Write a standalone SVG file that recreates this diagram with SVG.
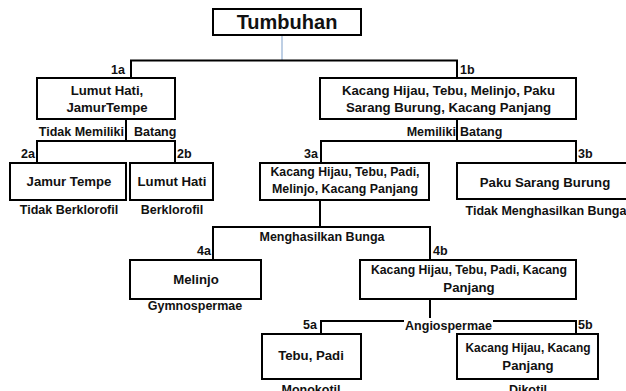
<svg xmlns="http://www.w3.org/2000/svg" width="626" height="391" viewBox="0 0 626 391">
<style>
rect.box{fill:#fff;stroke:#000;stroke-width:2}
.con{fill:none;stroke:#000;stroke-width:2}
text{font-family:"Liberation Sans",Arial,sans-serif;font-weight:bold;font-size:12.5px;fill:#111}
.b{font-size:13.2px}
.c{text-anchor:middle}
.e{text-anchor:end}
.title{font-size:20px}
</style>
<rect width="626" height="391" fill="#fff"/>
<g id="connectors">
<line x1="282" y1="35" x2="282" y2="60" stroke="#a8bfdb" stroke-width="1.5"/>
<path class="con" d="M131 78V60.5H457V78"/>
<path class="con" d="M126 119V141M37 163V141H175V163"/>
<path class="con" d="M457 119V141M321 163V141H576V163"/>
<path class="con" d="M320 200V227M213 260V227H430V260"/>
<path class="con" d="M430 299V321M321 334V321H576V334"/>
</g>
<g id="labels">
<text class="e" x="125" y="74">1a</text>
<text x="460" y="74">1b</text>
<text class="e" x="124" y="136">Tidak Memiliki</text>
<text x="134" y="136">Batang</text>
<text class="e" x="456" y="136">Memiliki</text>
<text x="460" y="136">Batang</text>
<text class="e" x="35" y="158">2a</text>
<text x="177" y="158">2b</text>
<text class="e" x="318" y="158">3a</text>
<text x="578" y="158">3b</text>
<text class="c" x="322" y="241">Menghasilkan Bunga</text>
<text class="e" x="211" y="255">4a</text>
<text x="433" y="255">4b</text>
<rect x="404" y="318" width="89" height="14" fill="#fff"/>
<text class="c" x="448.5" y="330">Angiospermae</text>
<text class="e" x="317" y="329">5a</text>
<text x="578" y="329">5b</text>
</g>
<g id="tumbuhan">
<rect class="box" x="213" y="9" width="148" height="26"/>
<text class="c title" x="287" y="29">Tumbuhan</text>
</g>
<g id="n1a">
<rect class="box" x="37" y="78" width="138" height="41"/>
<text class="c b" x="107" y="95">Lumut Hati,</text>
<text class="c b" x="107" y="112">JamurTempe</text>
</g>
<g id="n1b">
<rect class="box" x="320" y="78" width="256" height="41"/>
<text class="c b" x="448.5" y="95">Kacang Hijau, Tebu, Melinjo, Paku</text>
<text class="c b" x="448.5" y="112">Sarang Burung, Kacang Panjang</text>
</g>
<g id="n2a">
<rect class="box" x="10" y="163" width="116" height="37"/>
<text class="c b" x="69" y="186">Jamur Tempe</text>
<text class="c" x="69" y="214">Tidak Berklorofil</text>
</g>
<g id="n2b">
<rect class="box" x="130" y="163" width="83" height="37"/>
<text class="c b" x="172" y="186">Lumut Hati</text>
<text class="c" x="172" y="214">Berklorofil</text>
</g>
<g id="n3a">
<rect class="box" x="260" y="163" width="169" height="37"/>
<text class="c b" x="345" y="176" textLength="149" lengthAdjust="spacingAndGlyphs">Kacang Hijau, Tebu, Padi,</text>
<text class="c b" x="345" y="193" textLength="146" lengthAdjust="spacingAndGlyphs">Melinjo, Kacang Panjang</text>
</g>
<g id="n3b">
<rect class="box" x="457" y="163" width="175" height="36"/>
<text class="c b" x="545" y="187">Paku Sarang Burung</text>
<text class="c" x="546" y="215">Tidak Menghasilkan Bunga</text>
</g>
<g id="n4a">
<rect class="box" x="130" y="260" width="131" height="39"/>
<text class="c b" x="196" y="284">Melinjo</text>
<text class="c" x="195" y="310">Gymnospermae</text>
</g>
<g id="n4b">
<rect class="box" x="360" y="260" width="216" height="39"/>
<text class="c b" x="469" y="274" textLength="196" lengthAdjust="spacingAndGlyphs">Kacang Hijau, Tebu, Padi, Kacang</text>
<text class="c b" x="469" y="292">Panjang</text>
</g>
<g id="n5a">
<rect class="box" x="262" y="334" width="99" height="45"/>
<text class="c b" x="311" y="360">Tebu, Padi</text>
<text class="c" x="311" y="394">Monokotil</text>
</g>
<g id="n5b">
<rect class="box" x="457" y="334" width="141" height="45"/>
<text class="c b" x="528" y="352" textLength="125" lengthAdjust="spacingAndGlyphs">Kacang Hijau, Kacang</text>
<text class="c b" x="528" y="370">Panjang</text>
<text class="c" x="528" y="394">Dikotil</text>
</g>
</svg>
